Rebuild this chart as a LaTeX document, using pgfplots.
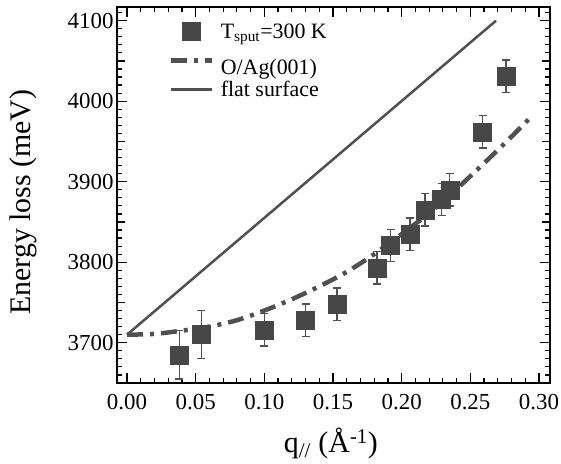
\documentclass[border=0pt]{standalone}
\usepackage{pgfplots}
\pgfplotsset{compat=1.18}
\usepackage{fontspec}
\setmainfont{Liberation Serif}
\definecolor{markgray}{HTML}{474747}
\definecolor{linegray}{HTML}{505050}
\pgfplotsset{
  longline legend/.style={legend image code/.code={\draw[##1] (0bp,0bp) -- (41bp,0bp);}},
  midmark legend/.style={legend image code/.code={\draw[##1] plot coordinates {(20.5bp,0bp)};}},
}

\begin{document}
\begin{tikzpicture}
\useasboundingbox (-117bp,-81bp) rectangle (444bp,383bp);
\begin{axis}[
    at={(0,0)}, anchor=south west,
    scale only axis, width=433bp, height=376bp,
    xmin=-0.0073, xmax=0.308,
    ymin=3650, ymax=4117,
    axis line style={line width=1.5bp},
    every tick/.style={black, line width=1.2bp},
    tick align=inside,
    major tick length=10bp, minor tick length=5bp,
    xtick={0,0.05,0.10,0.15,0.20,0.25,0.30},
    minor x tick num=4,
    ytick={3700,3800,3900,4000,4100},
    minor ytick={3650,3660,...,4110},
    extra y ticks={3650,3750,3850,3950,4050},
    extra y tick labels={},
    extra y tick style={major tick length=8bp},
    ticklabel style={font=\fontsize{23}{27}\selectfont},
    xticklabel style={yshift=-8bp, /pgf/number format/.cd, fixed, fixed zerofill, precision=2, assume math mode=true},
    yticklabel style={/pgf/number format/.cd, 1000 sep={}, assume math mode=true},
    label style={font=\fontsize{30}{36}\selectfont},
    xlabel={q\textsubscript{//} (Å\textsuperscript{-1})},
    ylabel={Energy loss (meV)},
    xlabel style={at={(axis description cs:0.494,-0.184)}, anchor=base},
    ylabel style={at={(axis description cs:-0.217,0.481)}, anchor=center},
    legend style={at={(axis description cs:0.118,0.962)}, anchor=north west,
        draw=none, fill=none, font=\fontsize{22}{26}\selectfont,
        column sep=5bp, row sep=1bp, inner sep=0bp,
        nodes={inner xsep=2bp, inner ysep=2bp}},
    legend cell align=left,
  ]

  % measured points
  \addplot[
    markgray, only marks, mark=square*, mark size=9bp,
    mark options={fill=markgray, draw=markgray, line width=0.5bp},
    midmark legend,
    error bars/.cd, y dir=both, y explicit,
    error bar style={line width=1.3bp, linegray},
    error mark options={rotate=90, mark size=4bp, line width=1.3bp, linegray},
  ]
  coordinates {
    (0.038,3685) +- (0,30)
    (0.054,3710) +- (0,30)
    (0.100,3716) +- (0,20)
    (0.130,3728) +- (0,20)
    (0.153,3748) +- (0,20)
    (0.182,3793) +- (0,20)
    (0.192,3821) +- (0,20)
    (0.206,3835) +- (0,20)
    (0.217,3865) +- (0,20)
    (0.229,3878) +- (0,20)
    (0.235,3890) +- (0,20)
    (0.259,3962) +- (0,20)
    (0.276,4031) +- (0,20)
  };
  \addlegendentry{T\textsubscript{sput}=300 K}

  % O/Ag(001)
  \addplot[
    linegray, line width=4.5bp, smooth,
    dash pattern=on 16bp off 7bp on 4bp off 7bp,
    longline legend,
  ]
  coordinates {
    (0,3710)(0.02,3711)(0.04,3715)(0.06,3720)(0.08,3728)(0.10,3740)
    (0.12,3754)(0.14,3770)(0.16,3788)(0.18,3810)(0.20,3835)(0.22,3861)
    (0.24,3891)(0.26,3923)(0.28,3956)(0.295,3982)
  };
  \addlegendentry{\rule{0pt}{30bp}O/Ag(001)}

  % flat surface
  \addplot[linegray, line width=2.5bp, longline legend]
  coordinates {(0,3710)(0.2687,4100)};
  \addlegendentry{flat surface}

\end{axis}
\end{tikzpicture}
\end{document}
